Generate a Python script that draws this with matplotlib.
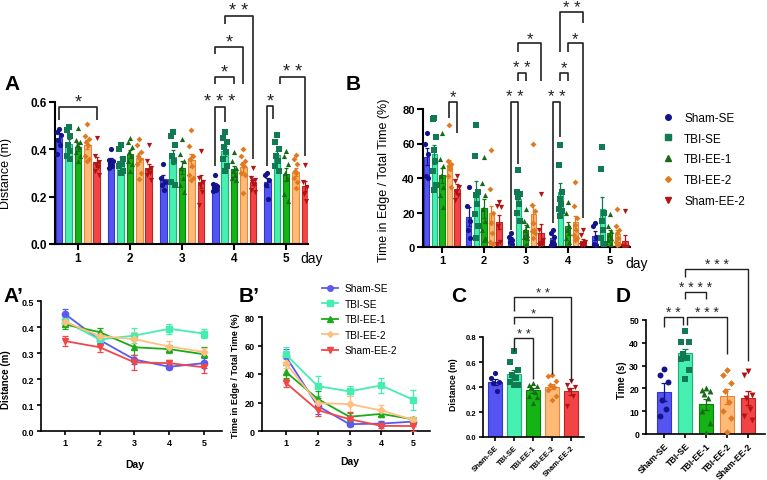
import numpy as np
import matplotlib
matplotlib.use('Agg')
import matplotlib.pyplot as plt
from matplotlib.lines import Line2D

plt.rcParams['font.family'] = ['Liberation Sans', 'DejaVu Sans']

# ---------------- data ----------------
groups = ['Sham-SE', 'TBI-SE', 'TBI-EE-1', 'TBI-EE-2', 'Sham-EE-2']
days = [1, 2, 3, 4, 5]

# Panel A / A' : distance (m), mean and SEM per day
dist_mean_sham_se = [0.450, 0.350, 0.275, 0.247, 0.261]
dist_mean_tbi_se = [0.422, 0.352, 0.367, 0.393, 0.375]
dist_mean_tbi_ee1 = [0.410, 0.380, 0.322, 0.315, 0.295]
dist_mean_tbi_ee2 = [0.420, 0.365, 0.353, 0.325, 0.304]
dist_mean_sham_ee2 = [0.346, 0.322, 0.264, 0.261, 0.245]

dist_sem_sham_se = [0.018, 0.012, 0.017, 0.010, 0.019]
dist_sem_tbi_se = [0.020, 0.016, 0.030, 0.020, 0.018]
dist_sem_tbi_ee1 = [0.016, 0.018, 0.028, 0.014, 0.027]
dist_sem_tbi_ee2 = [0.018, 0.020, 0.026, 0.022, 0.016]
dist_sem_sham_ee2 = [0.020, 0.017, 0.028, 0.013, 0.020]

dist_pts_sham_se = [[0.485, 0.475, 0.46, 0.44, 0.42, 0.38],
                    [0.40, 0.355, 0.35, 0.34, 0.33, 0.32],
                    [0.34, 0.28, 0.26, 0.25, 0.23],
                    [0.29, 0.255, 0.245, 0.24, 0.23, 0.225],
                    [0.30, 0.29, 0.27, 0.25, 0.19]]
dist_pts_tbi_se = [[0.495, 0.48, 0.455, 0.42, 0.395, 0.37, 0.36],
                   [0.42, 0.40, 0.36, 0.34, 0.34, 0.33, 0.31, 0.30],
                   [0.475, 0.455, 0.42, 0.37, 0.35, 0.26, 0.25],
                   [0.475, 0.45, 0.43, 0.41, 0.39, 0.36, 0.33, 0.31],
                   [0.46, 0.43, 0.40, 0.37, 0.35, 0.33, 0.31]]
dist_pts_tbi_ee1 = [[0.49, 0.44, 0.43, 0.42, 0.41, 0.39, 0.37, 0.35],
                    [0.45, 0.43, 0.41, 0.39, 0.37, 0.35, 0.34, 0.31],
                    [0.445, 0.38, 0.35, 0.32, 0.28, 0.25, 0.22],
                    [0.39, 0.35, 0.32, 0.31, 0.29, 0.28, 0.27],
                    [0.395, 0.37, 0.34, 0.30, 0.28, 0.21, 0.18]]
dist_pts_tbi_ee2 = [[0.505, 0.455, 0.445, 0.43, 0.42, 0.37, 0.36, 0.35],
                    [0.445, 0.42, 0.39, 0.37, 0.36, 0.34, 0.30, 0.275],
                    [0.48, 0.415, 0.37, 0.36, 0.33, 0.29, 0.28, 0.27],
                    [0.40, 0.37, 0.35, 0.34, 0.33, 0.30, 0.29, 0.215],
                    [0.375, 0.36, 0.34, 0.31, 0.30, 0.28, 0.26, 0.235]]
dist_pts_sham_ee2 = [[0.45, 0.37, 0.345, 0.335, 0.325, 0.31, 0.29],
                     [0.42, 0.35, 0.32, 0.31, 0.30, 0.29, 0.27],
                     [0.395, 0.28, 0.26, 0.25, 0.22, 0.165],
                     [0.32, 0.28, 0.27, 0.26, 0.25, 0.23, 0.22],
                     [0.335, 0.26, 0.24, 0.21, 0.18]]

# Panel B / B' : time in edge / total time (%)
edge_mean_sham_se = [52.3, 17.6, 4.8, 5.2, 6.6]
edge_mean_tbi_se = [53.7, 31.5, 27.8, 32.0, 21.9]
edge_mean_tbi_ee1 = [41.5, 22.5, 10.0, 12.0, 8.2]
edge_mean_tbi_ee2 = [47.5, 19.5, 18.9, 14.4, 7.8]
edge_mean_sham_ee2 = [33.8, 14.6, 8.3, 3.6, 3.5]

edge_sem_sham_se = [5.0, 5.5, 1.2, 1.6, 2.8]
edge_sem_tbi_se = [5.5, 7.0, 3.5, 5.0, 7.0]
edge_sem_tbi_ee1 = [4.5, 5.5, 2.8, 2.4, 1.8]
edge_sem_tbi_ee2 = [3.0, 4.5, 5.5, 3.8, 2.2]
edge_sem_sham_ee2 = [3.0, 4.0, 5.0, 1.3, 3.2]

edge_pts_sham_se = [[66, 60, 54, 41, 40], [34.5, 23.5, 15, 10, 5],
                    [8, 6, 4, 3, 2], [10, 8, 6, 3, 2, 1], [14, 12, 6, 2, 1]]
edge_pts_tbi_se = [[74.5, 74, 64, 56, 50, 44, 36, 33],
                   [71, 53, 32, 30, 25, 19, 12, 5],
                   [44.5, 32, 31, 29, 25, 20, 15],
                   [59, 47.5, 32, 28, 25, 22, 21, 18],
                   [58, 45, 20, 15, 10, 5, 2]]
edge_pts_tbi_ee1 = [[66, 51, 47, 41, 35, 30, 23],
                    [52, 37, 30, 22, 15, 10, 5, 4],
                    [22, 15, 13, 10, 7, 6, 5, 2],
                    [26, 20, 12, 10, 8, 5, 3],
                    [19, 12, 9, 7, 5, 4, 2]]
edge_pts_tbi_ee2 = [[70.5, 50, 48, 47, 45, 41, 35],
                    [56, 33.5, 20, 14, 8, 3, 2],
                    [59.5, 24.5, 21, 14, 10, 9, 8, 5],
                    [37.5, 23.5, 17, 13, 10, 7, 5, 4],
                    [22, 12, 10, 8, 5, 3, 2, 1]]
edge_pts_sham_ee2 = [[41, 38, 35, 32, 30, 27], [26, 24, 23, 12, 3, 2],
                     [30.5, 10, 4, 2, 1.5, 1], [10, 7, 3, 2, 1, 1],
                     [21, 0.5, 0, 0, 0, 0]]

# Panel C : distance (m)
c_mean = [0.440, 0.508, 0.376, 0.403, 0.366]
c_sem = [0.022, 0.032, 0.020, 0.022, 0.030]
c_pts = [[0.51, 0.47, 0.44, 0.43, 0.37],
         [0.685, 0.60, 0.54, 0.50, 0.47, 0.44, 0.42, 0.42],
         [0.43, 0.42, 0.41, 0.40, 0.36, 0.33, 0.32, 0.27],
         [0.50, 0.49, 0.45, 0.42, 0.40, 0.38, 0.33, 0.30],
         [0.45, 0.42, 0.40, 0.38, 0.33, 0.25]]

# Panel D : time (s)
d_mean = [18.5, 35.4, 13.0, 16.5, 15.7]
d_sem = [4.0, 2.0, 2.3, 3.2, 3.0]
d_pts = [[28.5, 26, 23, 15, 11, 8],
         [45, 40.5, 40.5, 35, 33.5, 33, 28, 24],
         [20, 19.5, 19, 17.5, 16, 10, 5, 0.5],
         [28, 26, 22.5, 19, 14, 10, 7, 1],
         [27.5, 26, 17, 16, 11, 8, 6]]

dist_means = [dist_mean_sham_se, dist_mean_tbi_se, dist_mean_tbi_ee1, dist_mean_tbi_ee2, dist_mean_sham_ee2]
dist_sems = [dist_sem_sham_se, dist_sem_tbi_se, dist_sem_tbi_ee1, dist_sem_tbi_ee2, dist_sem_sham_ee2]
dist_pts = [dist_pts_sham_se, dist_pts_tbi_se, dist_pts_tbi_ee1, dist_pts_tbi_ee2, dist_pts_sham_ee2]
edge_means = [edge_mean_sham_se, edge_mean_tbi_se, edge_mean_tbi_ee1, edge_mean_tbi_ee2, edge_mean_sham_ee2]
edge_sems = [edge_sem_sham_se, edge_sem_tbi_se, edge_sem_tbi_ee1, edge_sem_tbi_ee2, edge_sem_sham_ee2]
edge_pts = [edge_pts_sham_se, edge_pts_tbi_se, edge_pts_tbi_ee1, edge_pts_tbi_ee2, edge_pts_sham_ee2]

# ---------------- style ----------------
bar_fill = ['#5454f2', '#45f0b0', '#14b414', '#ffba78', '#f24444']
bar_edge = ['#3434c8', '#22b07a', '#0c800c', '#e08a3a', '#c02424']
pt_col = ['#14148a', '#127a52', '#186a18', '#e07a22', '#b01414']
line_col = ['#5a5af0', '#45eeb0', '#1aaa1a', '#ffbf80', '#f04848']
mk = ['o', 's', '^', 'D', 'v']
mk_size_scatter = [14, 14, 14, 9, 14]

W, H = 767, 481
fig = plt.figure(figsize=(W / 100, H / 100), dpi=100)


def axes_px(l, t, r, b):
    return fig.add_axes([l / W, 1 - b / H, (r - l) / W, (b - t) / H])


def style(ax, lw=1.5, fs=8, tl=4):
    for s in ['top', 'right']:
        ax.spines[s].set_visible(False)
    for s in ['left', 'bottom']:
        ax.spines[s].set_linewidth(lw)
    ax.tick_params(direction='out', width=lw, length=tl, labelsize=fs, pad=2)
    for lab in ax.get_xticklabels() + ax.get_yticklabels():
        lab.set_fontweight('bold')


def jitter(n):
    base = [0.0, -1.0, 1.0, -0.5, 0.5, -1.0, 1.0, 0.0, -0.5, 0.5]
    return np.array(base[:n])


def bracket(ax, x1, x2, y, l1, l2, text, fs, lw=1.2):
    ax.plot([x1, x1, x2, x2], [l1, y, y, l2], color='#222222', lw=lw,
            clip_on=False, solid_capstyle='butt', zorder=6)
    ax.annotate(text, xy=((x1 + x2) / 2, y), xytext=(0, 0.5),
                textcoords='offset points', ha='center', va='baseline',
                fontsize=fs, annotation_clip=False, color='#222222')


# ---------------- Panel A ----------------
gs, bw = 0.18, 0.125
axA = axes_px(55, 103, 308, 245)
for g in range(5):
    x = np.array(days) + (g - 2) * gs
    axA.bar(x, dist_means[g], width=bw, color=bar_fill[g], edgecolor=bar_edge[g],
            linewidth=0.8, zorder=2)
    axA.errorbar(x, dist_means[g], yerr=dist_sems[g], fmt='none', ecolor=pt_col[g],
                 elinewidth=0.9, capsize=1.5, capthick=0.9, zorder=3)
    for d in range(5):
        p = dist_pts[g][d]
        axA.scatter(x[d] + jitter(len(p)) * bw * 0.3, p, s=mk_size_scatter[g],
                    marker=mk[g], color=pt_col[g], linewidths=0, zorder=4)
axA.set_xlim(0.56, 5.42)
axA.set_ylim(0, 0.6)
axA.set_yticks([0, 0.2, 0.4, 0.6])
axA.set_yticklabels(['0.0', '0.2', '0.4', '0.6'])
axA.set_xticks(days)
axA.set_xticklabels([str(d) for d in days])
style(axA, fs=8.5)
axA.set_ylabel('Distance (m)', fontsize=9)
axA.yaxis.set_label_coords(-0.17, 0.5)
fig.text(300 / W, 1 - 259 / H, 'day', fontsize=10, va='center', ha='left')


def gx(day, g):
    return day + (g - 2) * gs


fsA = 13
bracket(axA, gx(1, 0), gx(1, 4), 0.58, 0.524, 0.524, '*', fsA)
bracket(axA, gx(4, 0), gx(4, 1), 0.58, 0.33, 0.515, '* * *', fsA)
bracket(axA, gx(4, 0), gx(4, 2), 0.706, 0.676, 0.676, '*', fsA)
bracket(axA, gx(4, 0), gx(4, 3), 0.832, 0.803, 0.676, '*', fsA)
bracket(axA, gx(4, 1), gx(4, 4), 0.963, 0.93, 0.359, '* *', fsA)
bracket(axA, gx(5, 0), gx(5, 0.6), 0.583, 0.33, 0.528, '*', fsA)
bracket(axA, gx(5, 1.35), gx(5, 4), 0.706, 0.676, 0.372, '* *', fsA)

# ---------------- Panel B ----------------
axB = axes_px(423, 110, 630, 248)
bwB = 0.125
for g in range(5):
    x = np.array(days) + (g - 2) * gs
    axB.bar(x, edge_means[g], width=bwB, color=bar_fill[g], edgecolor=bar_edge[g],
            linewidth=0.8, zorder=2)
    axB.errorbar(x, edge_means[g], yerr=edge_sems[g], fmt='none', ecolor=pt_col[g],
                 elinewidth=0.9, capsize=1.5, capthick=0.9, zorder=3)
    for d in range(5):
        p = edge_pts[g][d]
        axB.scatter(x[d] + jitter(len(p)) * bwB * 0.3, p, s=mk_size_scatter[g],
                    marker=mk[g], color=pt_col[g], linewidths=0, zorder=4)
axB.set_xlim(0.55, 5.48)
axB.set_ylim(0, 80)
axB.set_yticks([0, 20, 40, 60, 80])
axB.set_xticks(days)
style(axB, fs=8)
axB.set_ylabel('Time in Edge / Total Time (%)', fontsize=9)
axB.yaxis.set_label_coords(-0.16, 0.49)
fig.text(625 / W, 1 - 264 / H, 'day', fontsize=10, va='center', ha='left')

fsB = 12
bracket(axB, gx(1, 3), gx(1, 4), 84, 75, 66, '*', fsB)
bracket(axB, gx(3, 0), gx(3, 1), 84, 10, 48, '* *', fsB)
bracket(axB, gx(3, 1), gx(3, 2), 101, 96, 96, '* *', fsB)
bracket(axB, gx(3, 1), gx(3, 4), 118, 113, 96, '*', fsB)
bracket(axB, gx(4, 0), gx(4, 1), 84, 14, 64, '* *', fsB)
bracket(axB, gx(4, 1), gx(4, 2), 101, 96, 96, '*', fsB)
bracket(axB, gx(4, 2), gx(4, 4), 118, 113, 17, '*', fsB)
bracket(axB, gx(4, 1), gx(4, 4), 136, 113, 130, '* *', fsB)

handlesB = [Line2D([], [], ls='none', marker=mk[g], color=pt_col[g], markersize=4 if g != 3 else 3)
            for g in range(5)]
fig.legend(handlesB, groups, loc='upper left', bbox_to_anchor=(657 / W, 1 - 108 / H),
           frameon=False, fontsize=8.5, handlelength=1.0, handletextpad=0.9,
           labelspacing=0.75, borderaxespad=0)

# ---------------- Panel A' ----------------
axA2 = axes_px(41, 302, 222, 432)
for g in range(5):
    axA2.errorbar(days, dist_means[g], yerr=dist_sems[g], color=line_col[g], lw=1.3,
                  marker=mk[g], markersize=4.5 if g != 3 else 3.5, ecolor=line_col[g],
                  elinewidth=0.9, capsize=2, capthick=0.9, zorder=3)
axA2.set_xlim(0.31, 5.52)
axA2.set_ylim(0, 0.5)
axA2.set_yticks([0, 0.1, 0.2, 0.3, 0.4, 0.5])
axA2.set_yticklabels(['0.0', '0.1', '0.2', '0.3', '0.4', '0.5'])
axA2.set_xticks(days)
style(axA2, lw=1.2, fs=6.5, tl=3)
axA2.set_ylabel('Distance (m)', fontsize=7, fontweight='bold')
axA2.yaxis.set_label_coords(-0.166, 0.4)
axA2.set_xlabel('Day', fontsize=7.5, fontweight='bold')
axA2.xaxis.set_label_coords(0.52, -0.215)

# ---------------- Panel B' ----------------
axB2 = axes_px(262, 318, 430, 432)
for g in range(5):
    axB2.errorbar(days, edge_means[g], yerr=edge_sems[g], color=line_col[g], lw=1.3,
                  marker=mk[g], markersize=4.5 if g != 3 else 3.5, ecolor=line_col[g],
                  elinewidth=0.9, capsize=2, capthick=0.9, zorder=3, label=groups[g])
axB2.set_xlim(0.25, 5.53)
axB2.set_ylim(0, 80)
axB2.set_yticks([0, 20, 40, 60, 80])
axB2.set_xticks(days)
style(axB2, lw=1.2, fs=6.5, tl=3)
axB2.set_ylabel('Time in Edge / Total Time (%)', fontsize=6.5, fontweight='bold')
axB2.yaxis.set_label_coords(-0.13, 0.49)
axB2.set_xlabel('Day', fontsize=7.5, fontweight='bold')
axB2.xaxis.set_label_coords(0.52, -0.22)
handlesB2 = [Line2D([], [], color=line_col[g], lw=1.3, marker=mk[g],
                    markersize=4 if g != 3 else 3) for g in range(5)]
fig.legend(handlesB2, groups, loc='upper left', bbox_to_anchor=(318 / W, 1 - 280 / H),
           frameon=False, fontsize=7.3, handlelength=1.6, handletextpad=0.6,
           labelspacing=0.55, borderaxespad=0)

# ---------------- Panel C ----------------
axC = axes_px(483, 338, 584, 438)
xc = np.arange(5)
bwC = 0.7
axC.bar(xc, c_mean, width=bwC, color=bar_fill, edgecolor=bar_edge, linewidth=0.8, zorder=2)
for g in range(5):
    axC.errorbar(xc[g], c_mean[g], yerr=c_sem[g], fmt='none', ecolor=pt_col[g],
                 elinewidth=0.9, capsize=2, capthick=0.9, zorder=3)
    p = c_pts[g]
    axC.scatter(xc[g] + jitter(len(p)) * bwC * 0.3, p, s=mk_size_scatter[g],
                marker=mk[g], color=pt_col[g], linewidths=0, zorder=4)
axC.set_xlim(-0.63, 4.68)
axC.set_ylim(0, 0.8)
axC.set_yticks([0, 0.2, 0.4, 0.6, 0.8])
axC.set_yticklabels(['0.0', '0.2', '0.4', '0.6', '0.8'])
axC.set_xticks(xc)
axC.set_xticklabels(groups, rotation=45, ha='right', rotation_mode='anchor')
style(axC, lw=1.2, fs=5.5, tl=3)
axC.set_ylabel('Distance (m)', fontsize=6.3, fontweight='bold')
axC.yaxis.set_label_coords(-0.25, 0.53)
fsC = 9.5
bracket(axC, 1, 2, 0.792, 0.69, 0.464, '* *', fsC, lw=1.0)
bracket(axC, 1, 3, 0.96, 0.904, 0.504, '*', fsC, lw=1.0)
bracket(axC, 1, 4, 1.12, 1.008, 0.448, '* *', fsC, lw=1.0)

# ---------------- Panel D ----------------
axD = axes_px(646, 321, 765, 435)
xd = np.arange(5)
bwD = 0.67
axD.bar(xd, d_mean, width=bwD, color=bar_fill, edgecolor=bar_edge, linewidth=0.8, zorder=2)
for g in range(5):
    axD.errorbar(xd[g], d_mean[g], yerr=d_sem[g], fmt='none', ecolor=pt_col[g],
                 elinewidth=0.9, capsize=2, capthick=0.9, zorder=3)
    p = d_pts[g]
    axD.scatter(xd[g] + jitter(len(p)) * bwD * 0.3, p, s=mk_size_scatter[g] * 1.3,
                marker=mk[g], color=pt_col[g], linewidths=0, zorder=4)
axD.set_xlim(-0.86, 4.8)
axD.set_ylim(0, 50)
axD.set_yticks([0, 10, 20, 30, 40, 50])
axD.set_xticks(xd)
axD.set_xticklabels(groups, rotation=45, ha='right', rotation_mode='anchor')
style(axD, lw=1.2, fs=6.3, tl=3)
axD.set_ylabel('Time (s)', fontsize=7, fontweight='bold')
axD.yaxis.set_label_coords(-0.16, 0.48)
fsD = 10
bracket(axD, 0, 0.92, 51.3, 47, 48, '* *', fsD, lw=1.0)
bracket(axD, 1.08, 3, 51.3, 48, 35, '* * *', fsD, lw=1.0)
bracket(axD, 1, 2, 62.3, 59, 59, '* * * *', fsD, lw=1.0)
bracket(axD, 1, 4, 72.4, 69, 32, '* * *', fsD, lw=1.0)

# ---------------- panel letters ----------------
for txt, x, y in [('A', 4, 84), ('B', 346, 85), ("A\u2019", 3, 296), ("B\u2019", 239, 296),
                  ('C', 451, 297), ('D', 616, 297)]:
    fig.text(x / W, 1 - y / H, txt, fontsize=15, fontweight='bold', va='center', ha='left')

fig.savefig('out.png', dpi=100)
